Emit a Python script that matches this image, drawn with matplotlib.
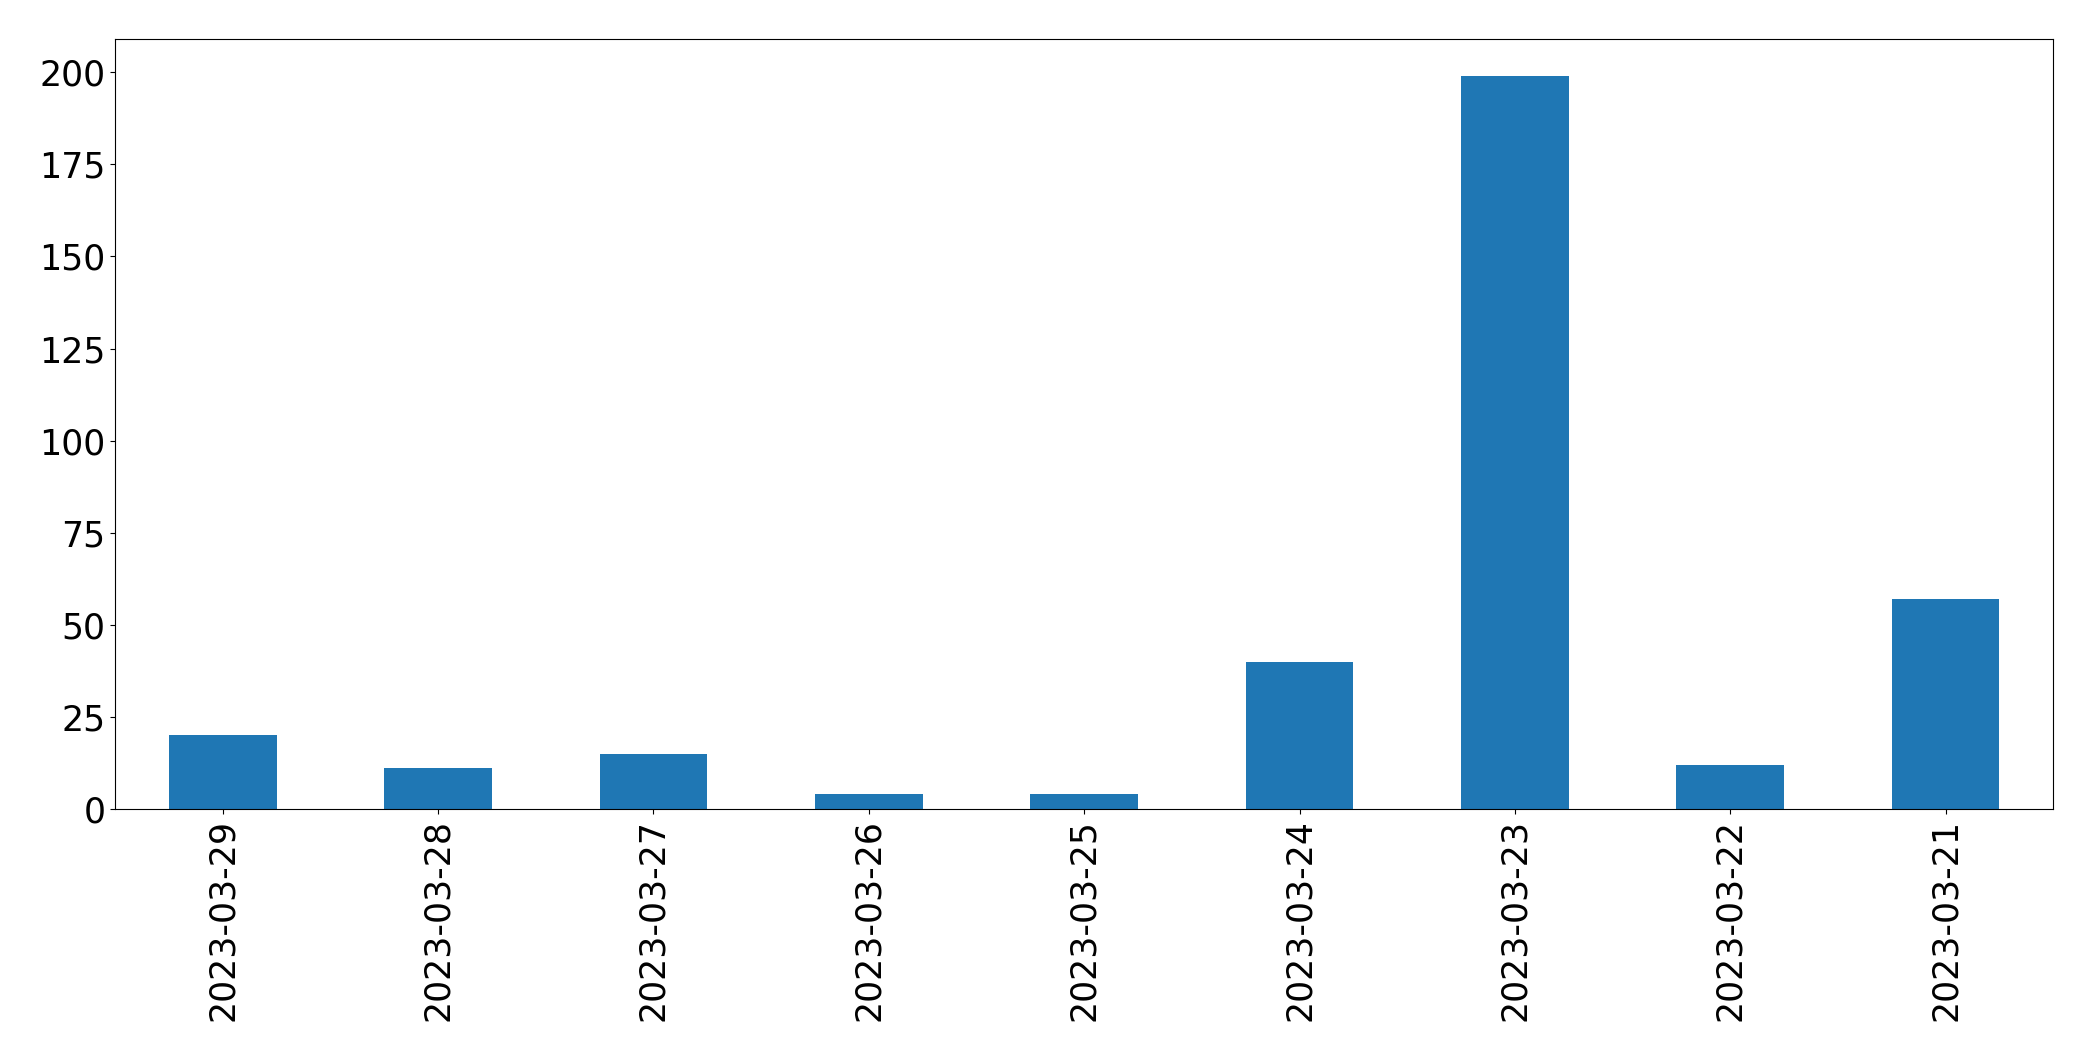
import matplotlib
matplotlib.use("Agg")
import matplotlib.pyplot as plt

dates = ["2023-03-29", "2023-03-28", "2023-03-27", "2023-03-26", "2023-03-25",
         "2023-03-24", "2023-03-23", "2023-03-22", "2023-03-21"]
counts = [20, 11, 15, 4, 4, 40, 199, 12, 57]

fig, ax = plt.subplots(figsize=(20.93, 10.61), dpi=100)
fig.subplots_adjust(left=0.055, right=0.981, top=0.963, bottom=0.2375)

x = range(len(dates))
ax.bar(x, counts, width=0.5, color="#1f77b4")
ax.set_xlim(-0.5, len(dates) - 0.5)
ax.set_xticks(list(x))
ax.set_xticklabels(dates, rotation=90)
ax.set_yticks(range(0, 201, 25))
ax.tick_params(labelsize=25)

fig.savefig("out.png")
